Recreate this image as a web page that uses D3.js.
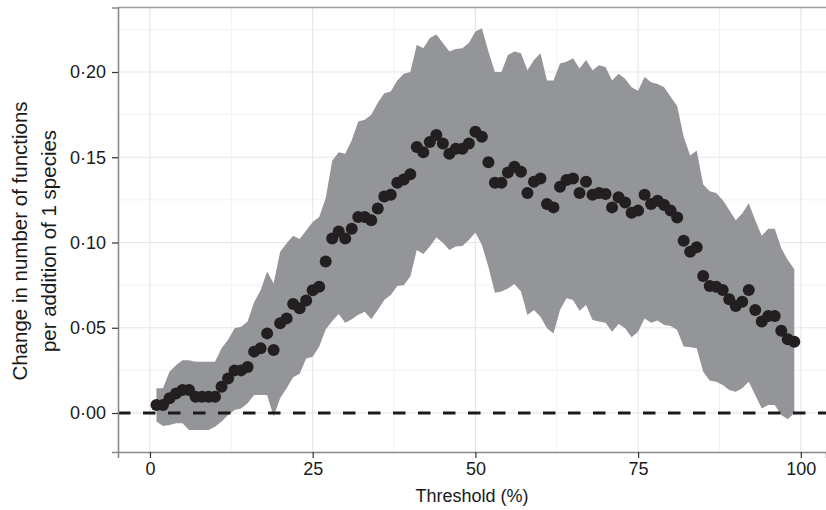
<!DOCTYPE html>
<html>
<head>
<meta charset="utf-8">
<script src="https://cdn.jsdelivr.net/npm/d3@7"></script>
<style>
  body { margin: 0; background: #fff; }
  #vis { width: 826px; height: 510px; }
  text { font-family: "Liberation Sans", Arial, Helvetica, sans-serif; fill: #1a1a1a; }
</style>
</head>
<body>
<div id="vis"></div>
<script>
// thresholds 1..99
var thresholds = d3.range(1, 100);

var slope_values = [
  0.0047, 0.0047, 0.0086, 0.0115, 0.0135, 0.0135, 0.0096, 0.0096, 0.0096, 0.0096,
  0.0154, 0.0203, 0.025, 0.025, 0.027, 0.036, 0.038, 0.0467, 0.037, 0.0526,
  0.0555, 0.064, 0.0614, 0.066, 0.072, 0.074, 0.0888, 0.1024, 0.1064, 0.1024,
  0.108, 0.115, 0.115, 0.113, 0.120, 0.127, 0.128, 0.135, 0.137, 0.140,
  0.156, 0.153, 0.159, 0.163, 0.158, 0.152, 0.155, 0.155, 0.158, 0.165,
  0.162, 0.147, 0.135, 0.135, 0.141, 0.1445, 0.1415, 0.129, 0.1357, 0.1376,
  0.1226, 0.1206, 0.1327, 0.1367, 0.1376, 0.129, 0.1357, 0.128, 0.129, 0.1284,
  0.1206, 0.1265, 0.1234, 0.1175, 0.1187, 0.128, 0.1226, 0.1245, 0.122, 0.1187,
  0.1146, 0.101, 0.0946, 0.0972, 0.0804, 0.0745, 0.0741, 0.0721, 0.0667, 0.0628,
  0.0653, 0.0721, 0.0604, 0.0536, 0.0569, 0.0569, 0.0483, 0.0432, 0.0418
];

var upper_values = [
  0.0145, 0.0145, 0.0242, 0.028, 0.031, 0.031, 0.030, 0.030, 0.030, 0.030,
  0.038, 0.043, 0.0497, 0.0506, 0.0536, 0.065, 0.072, 0.083, 0.076, 0.0946,
  0.0995, 0.104, 0.102, 0.107, 0.112, 0.115, 0.126, 0.148, 0.153, 0.152,
  0.160, 0.171, 0.172, 0.175, 0.182, 0.1875, 0.1885, 0.195, 0.199, 0.200,
  0.216, 0.214, 0.220, 0.222, 0.217, 0.212, 0.2135, 0.214, 0.217, 0.2237,
  0.2256, 0.212, 0.200, 0.200, 0.210, 0.212, 0.211, 0.201, 0.207, 0.211,
  0.195, 0.195, 0.205, 0.206, 0.208, 0.202, 0.207, 0.201, 0.204, 0.203,
  0.195, 0.199, 0.196, 0.191, 0.189, 0.197, 0.194, 0.193, 0.191, 0.1855,
  0.180, 0.162, 0.151, 0.154, 0.134, 0.130, 0.129, 0.125, 0.119, 0.113,
  0.117, 0.123, 0.113, 0.104, 0.108, 0.108, 0.0966, 0.0897, 0.0843
];

var lower_values = [
  -0.005, -0.0076, -0.007, -0.006, -0.006, -0.010, -0.010, -0.010, -0.010, -0.008,
  -0.005, -0.0012, 0.0018, 0.0027, 0.0057, 0.0106, 0.0106, 0.0106, -0.002, 0.0086,
  0.0145, 0.021, 0.023, 0.032, 0.033, 0.039, 0.049, 0.054, 0.058, 0.053,
  0.055, 0.0577, 0.0594, 0.055, 0.0604, 0.0663, 0.0692, 0.0745, 0.075, 0.080,
  0.0956, 0.0933, 0.0976, 0.103, 0.0999, 0.0956, 0.0976, 0.098, 0.1015, 0.1058,
  0.0985, 0.0858, 0.0706, 0.0712, 0.073, 0.0757, 0.0712, 0.0575, 0.0604, 0.0565,
  0.0497, 0.0467, 0.0604, 0.0673, 0.0663, 0.060, 0.0633, 0.0545, 0.0536, 0.053,
  0.0477, 0.0522, 0.0497, 0.0444, 0.0477, 0.0555, 0.053, 0.0542, 0.0516, 0.051,
  0.0487, 0.039, 0.0385, 0.038, 0.0242, 0.019, 0.0184, 0.0164, 0.0135, 0.0125,
  0.0145, 0.0184, 0.0106, 0.0027, 0.0047, 0.0047, -0.0012, -0.0037, 0
];

var x_ticks = [0, 25, 50, 75, 100];
var x_minor = [12.5, 37.5, 62.5, 87.5];
var y_ticks = [0, 0.05, 0.10, 0.15, 0.20];
var y_minor = [0.025, 0.075, 0.125, 0.175, 0.225];

var width = 826, height = 510;
var margin = { top: 7.5, bottom: 58, left: 118, right: 0 };

var svg = d3.select('#vis')
  .append('svg')
  .attr('width', width)
  .attr('height', height);

var x_scale = d3.scaleLinear()
  .domain([-4.912, 103.87])
  .range([margin.left, width - margin.right]);

var y_scale = d3.scaleLinear()
  .domain([-0.02287, 0.23783])
  .range([height - margin.bottom, margin.top]);

var data = thresholds.map(function(t, i) {
  return { t: t, y: slope_values[i], lo: lower_values[i], hi: upper_values[i] };
});

// grid
var grid = svg.append('g');
grid.selectAll('.xminor').data(x_minor).enter().append('line')
  .attr('x1', function(d) { return x_scale(d); }).attr('x2', function(d) { return x_scale(d); })
  .attr('y1', y_scale.range()[0]).attr('y2', y_scale.range()[1])
  .attr('stroke', '#f3f3f3').attr('stroke-width', 1);
grid.selectAll('.yminor').data(y_minor).enter().append('line')
  .attr('y1', function(d) { return y_scale(d); }).attr('y2', function(d) { return y_scale(d); })
  .attr('x1', x_scale.range()[0]).attr('x2', x_scale.range()[1])
  .attr('stroke', '#f3f3f3').attr('stroke-width', 1);
grid.selectAll('.xmajor').data(x_ticks).enter().append('line')
  .attr('x1', function(d) { return x_scale(d); }).attr('x2', function(d) { return x_scale(d); })
  .attr('y1', y_scale.range()[0]).attr('y2', y_scale.range()[1])
  .attr('stroke', '#e6e6e6').attr('stroke-width', 1.1);
grid.selectAll('.ymajor').data(y_ticks).enter().append('line')
  .attr('y1', function(d) { return y_scale(d); }).attr('y2', function(d) { return y_scale(d); })
  .attr('x1', x_scale.range()[0]).attr('x2', x_scale.range()[1])
  .attr('stroke', '#e6e6e6').attr('stroke-width', 1.1);

// ribbon
var area = d3.area()
  .x(function(d) { return x_scale(d.t); })
  .y0(function(d) { return y_scale(d.lo); })
  .y1(function(d) { return y_scale(d.hi); });

svg.append('path')
  .datum(data)
  .attr('d', area)
  .attr('fill', '#939598');

// zero line
svg.append('line')
  .attr('x1', x_scale.range()[0]).attr('x2', x_scale.range()[1])
  .attr('y1', y_scale(0)).attr('y2', y_scale(0))
  .attr('stroke', '#1a1a1a')
  .attr('stroke-width', 3)
  .attr('stroke-dasharray', '12.5,12.5');

// points
svg.selectAll('.pt')
  .data(data)
  .enter()
  .append('circle')
  .attr('class', 'pt')
  .attr('cx', function(d) { return x_scale(d.t); })
  .attr('cy', function(d) { return y_scale(d.y); })
  .attr('r', 6)
  .attr('fill', '#231f20');

// panel border (top)
svg.append('line')
  .attr('x1', margin.left).attr('x2', width)
  .attr('y1', margin.top).attr('y2', margin.top)
  .attr('stroke', '#a0a0a0').attr('stroke-width', 1.5);

// axes
var fmt = function(d) { return d3.format('.2f')(d).replace('.', '\u00b7'); };

var y_axis = svg.append('g')
  .attr('transform', 'translate(' + margin.left + ',0)')
  .call(d3.axisLeft(y_scale).tickValues(y_ticks).tickFormat(fmt).tickSize(6).tickPadding(6));

var x_axis = svg.append('g')
  .attr('transform', 'translate(0,' + (height - margin.bottom) + ')')
  .call(d3.axisBottom(x_scale).tickValues(x_ticks).tickSize(6).tickPadding(4));

[x_axis, y_axis].forEach(function(a) {
  a.select('.domain').attr('stroke', '#8a8a8a').attr('stroke-width', 1.6);
  a.selectAll('.tick line').attr('stroke', '#333').attr('stroke-width', 1.2);
  a.selectAll('.tick text')
    .style('font-size', '18px')
    .style('font-family', '"Liberation Sans", Arial, Helvetica, sans-serif')
    .attr('fill', '#1a1a1a');
});

// titles
svg.append('text')
  .attr('x', 472)
  .attr('y', 502)
  .attr('text-anchor', 'middle')
  .style('font-size', '18px')
  .text('Threshold (%)');

var ytitle = svg.append('text')
  .attr('transform', 'translate(0,241) rotate(-90)')
  .attr('text-anchor', 'middle')
  .style('font-size', '20.5px');
ytitle.append('tspan').attr('x', 0).attr('y', 27).text('Change in number of functions');
ytitle.append('tspan').attr('x', 0).attr('y', 56).text('per addition of 1 species');
</script>
</body>
</html>
